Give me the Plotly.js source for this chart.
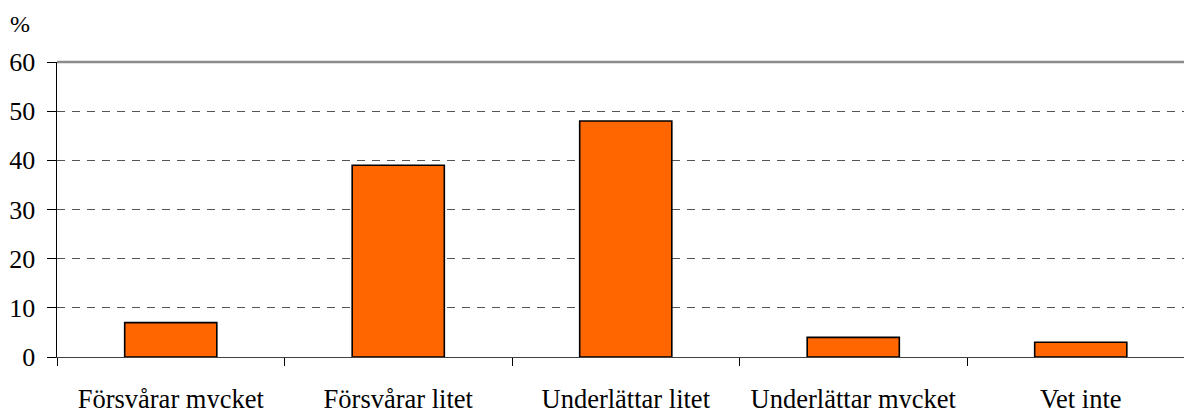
<!DOCTYPE html>
<html>
<head>
<meta charset="utf-8">
<script src="https://cdn.plot.ly/plotly-3.0.1.min.js"></script>
<style>html,body{margin:0;padding:0;background:#fff;}#chart{width:1184px;height:408px;}</style>
</head>
<body>
<div id="chart"></div>
<script>
const categories = ["Försvårar mycket", "Försvårar litet", "Underlättar litet", "Underlättar mycket", "Vet inte"];
const values = [7, 39, 48, 4, 3];
const yTicks = [0, 10, 20, 30, 40, 50, 60];
const unitLabel = "%";

const fam = "Liberation Serif";
const font = {family: fam, size: 26.5, color: "#000"};

const trace = {
  type: "bar",
  x: categories,
  y: values,
  marker: {color: "#FF6600", line: {color: "#000", width: 1.6}},
  hoverinfo: "x+y"
};

const plotW = 1184 - 57;
const catW = 227.5;

const layout = {
  width: 1184, height: 408,
  margin: {l: 57, r: 0, t: 62, b: 51, pad: 0},
  paper_bgcolor: "#fff", plot_bgcolor: "#fff",
  showlegend: false,
  bargap: 0.595,
  font: font,
  xaxis: {
    type: "category",
    range: [-0.5, -0.5 + plotW / catW],
    tickson: "boundaries",
    ticks: "outside", ticklen: 8, tickwidth: 1, tickcolor: "#000",
    showline: true, linecolor: "#404040", linewidth: 1,
    showgrid: false, zeroline: false,
    tickfont: {family: fam, size: 26.5, color: "#000"},
    ticklabelstandoff: 18
  },
  yaxis: {
    range: [0, 60],
    tickvals: yTicks,
    ticktext: yTicks.map(String),
    ticks: "outside", ticklen: 9, tickwidth: 1, tickcolor: "#000",
    showline: true, linecolor: "#000", linewidth: 1.5,
    showgrid: true, gridcolor: "#555", gridwidth: 1, griddash: "8px,7px",
    zeroline: false,
    tickfont: {family: fam, size: 26, color: "#000"},
    ticklabelstandoff: 6
  },
  shapes: [{
    type: "line", xref: "paper", yref: "paper",
    x0: 0, x1: 1, y0: 1, y1: 1,
    line: {color: "#8c8c8c", width: 2.5}
  }],
  annotations: [{
    text: unitLabel, xref: "paper", yref: "paper",
    x: (8 - 57) / plotW, y: 1 + (62 - 24) / 295,
    xanchor: "left", yanchor: "middle", showarrow: false,
    font: {family: fam, size: 24, color: "#000"}
  }]
};

Plotly.newPlot("chart", [trace], layout, {displayModeBar: false, staticPlot: true});
</script>
</body>
</html>
